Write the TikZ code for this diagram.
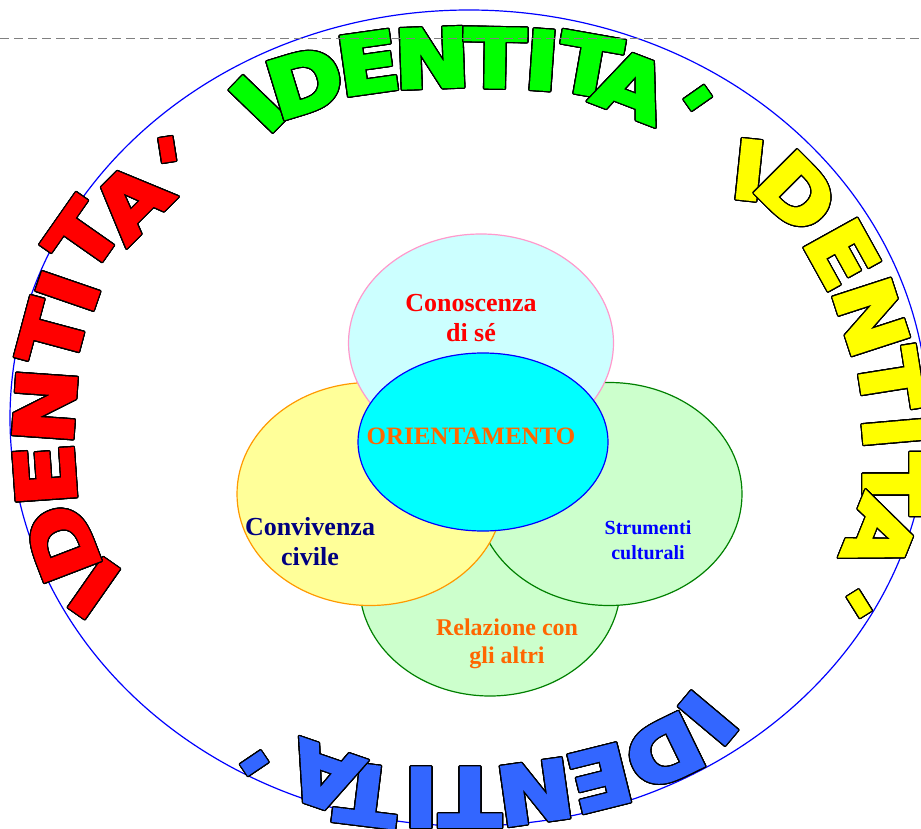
\documentclass[tikz,border=0pt]{standalone}
\usepackage{fontspec}
\setmainfont{Liberation Serif}
\newfontfamily\idfont[FakeBold=4]{DejaVu Sans Bold}
\usepackage{contour}
\contourlength{1.2pt}
\contournumber{24}
\usetikzlibrary{shapes.geometric}

\definecolor{ringblue}{RGB}{0,0,255}
\definecolor{lcyan}{RGB}{204,255,255}
\definecolor{aqua}{RGB}{0,255,255}
\definecolor{rose}{RGB}{255,153,204}
\definecolor{lyellow}{RGB}{255,255,153}
\definecolor{lorange}{RGB}{255,153,0}
\definecolor{lgreen}{RGB}{204,255,204}
\definecolor{dgreen}{RGB}{0,128,0}
\definecolor{txtorange}{RGB}{255,102,0}
\definecolor{navy}{RGB}{0,0,128}
\definecolor{idred}{RGB}{255,0,0}
\definecolor{idgreen}{RGB}{0,255,0}
\definecolor{idyellow}{RGB}{255,255,0}
\definecolor{idblue}{RGB}{51,102,255}

\newcommand\apos{\raisebox{-20pt}{'}}
\newcommand\idch[1]{\scalebox{1.12}[1]{\contour{black}{#1}}}

\begin{document}
\begin{tikzpicture}[x=1pt,y=-1pt,
        blob/.style={shape=ellipse,inner sep=0pt,line width=1.2pt},
        lbl/.style={align=center,font=\fontsize{26}{30}\selectfont\bfseries},
        idl/.style={font=\idfont\fontsize{80}{80}\selectfont,inner sep=0pt,text height=58pt,text depth=0pt}]
                \useasboundingbox (0,0) rectangle (921,829);
                \node[blob,draw=ringblue,minimum width=918pt,minimum height=816pt](ring)at(469, 418){};

                \node[blob,draw=dgreen,fill=lgreen,minimum width=261pt,minimum height=222pt](relaz)at(490, 585){};
                \node[blob,draw=dgreen,fill=lgreen,minimum width=266pt,minimum height=223pt](strum)at(609, 494){};
                \node[blob,draw=lorange,fill=lyellow,minimum width=266pt,minimum height=223pt](conviv)at(370, 494){};
                \node[blob,draw=rose,fill=lcyan,minimum width=265pt,minimum height=218pt](conosc)at(481, 343){};
                \node[blob,draw=ringblue,fill=aqua,minimum width=250pt,minimum height=178pt](orient)at(483, 442){};

                \node[lbl,text=idred](conosc-t)at(471, 318){Conoscenza\\di sé};
                \node[lbl,text=txtorange,font=\fontsize{25}{28}\selectfont\bfseries](orient-t)at(471, 436){ORIENTAMENTO};
                \node[lbl,text=navy](conviv-t)at(310, 542){Convivenza\\civile};
                \node[lbl,text=ringblue,font=\fontsize{20}{25}\selectfont\bfseries](strum-t)at(648, 540){Strumenti\\culturali};
                \node[lbl,text=txtorange,font=\fontsize{24}{28}\selectfont\bfseries](relaz-t)at(507, 644){Relazione con\\gli altri};

                \node[idl,text=idred,rotate=145](r1)at(94, 588){\idch{I}};
                \node[idl,text=idred,rotate=111](r2)at(62, 543){\idch{D}};
                \node[idl,text=idred,rotate=94](r3)at(45, 475){\idch{E}};
                \node[idl,text=idred,rotate=86](r4)at(45, 406){\idch{N}};
                \node[idl,text=idred,rotate=75](r5)at(52, 334){\idch{T}};
                \node[idl,text=idred,rotate=71](r6)at(68, 291){\idch{I}};
                \node[idl,text=idred,rotate=55](r7)at(83, 236){\idch{T}};
                \node[idl,text=idred,rotate=45](r8)at(131, 201){\idch{A}};
                \node[idl,text=idred,rotate=9](r9)at(167, 148){\idch{\apos}};

                \node[idl,text=idgreen,rotate=46](g1)at(258, 104){\idch{I}};
                \node[idl,text=idgreen,rotate=17](g2)at(305, 82){\idch{D}};
                \node[idl,text=idgreen,rotate=8](g3)at(368, 63){\idch{E}};
                \node[idl,text=idgreen,rotate=2](g4)at(432, 58){\idch{N}};
                \node[idl,text=idgreen,rotate=-1](g5)at(495, 58){\idch{T}};
                \node[idl,text=idgreen,rotate=-4](g6)at(542, 60){\idch{I}};
                \node[idl,text=idgreen,rotate=-10](g7)at(589, 65){\idch{T}};
                \node[idl,text=idgreen,rotate=-21](g8)at(632, 86){\idch{A}};
                \node[idl,text=idgreen,rotate=-55](g9)at(699, 97){\idch{\apos}};

                \node[idl,text=idyellow,rotate=-6](y1)at(749, 170){\idch{I}};
                \node[idl,text=idyellow,rotate=-45](y2)at(797, 193){\idch{D}};
                \node[idl,text=idyellow,rotate=-61](y3)at(842, 254){\idch{E}};
                \node[idl,text=idyellow,rotate=-72](y4)at(871, 317){\idch{N}};
                \node[idl,text=idyellow,rotate=-81](y5)at(890, 380){\idch{T}};
                \node[idl,text=idyellow,rotate=-85](y6)at(893, 432){\idch{I}};
                \node[idl,text=idyellow,rotate=-90](y7)at(893, 484){\idch{T}};
                \node[idl,text=idyellow,rotate=-112](y8)at(880, 535){\idch{A}};
                \node[idl,text=idyellow,rotate=-148](y9)at(860, 605){\idch{\apos}};

                \node[idl,text=idblue,rotate=-130](b1)at(708, 718){\idch{I}};
                \node[idl,text=idblue,rotate=-154](b2)at(664, 752){\idch{D}};
                \node[idl,text=idblue,rotate=-166](b3)at(600, 778){\idch{E}};
                \node[idl,text=idblue,rotate=-172](b4)at(535, 792){\idch{N}};
                \node[idl,text=idblue,rotate=180](b5)at(470, 797){\idch{T}};
                \node[idl,text=idblue,rotate=180](b6)at(421, 797){\idch{I}};
                \node[idl,text=idblue,rotate=173](b7)at(367, 795){\idch{T}};
                \node[idl,text=idblue,rotate=161](b8)at(324, 777){\idch{A}};
                \node[idl,text=idblue,rotate=124](b9)at(253, 764){\idch{\apos}};

                \coordinate (dl) at (0, 38);
                \coordinate (dr) at (921, 38);
                \draw[gray,line width=0.9pt,dash pattern=on 9pt off 5pt](dl) -- (dr);
            \end{tikzpicture}
\end{document}
